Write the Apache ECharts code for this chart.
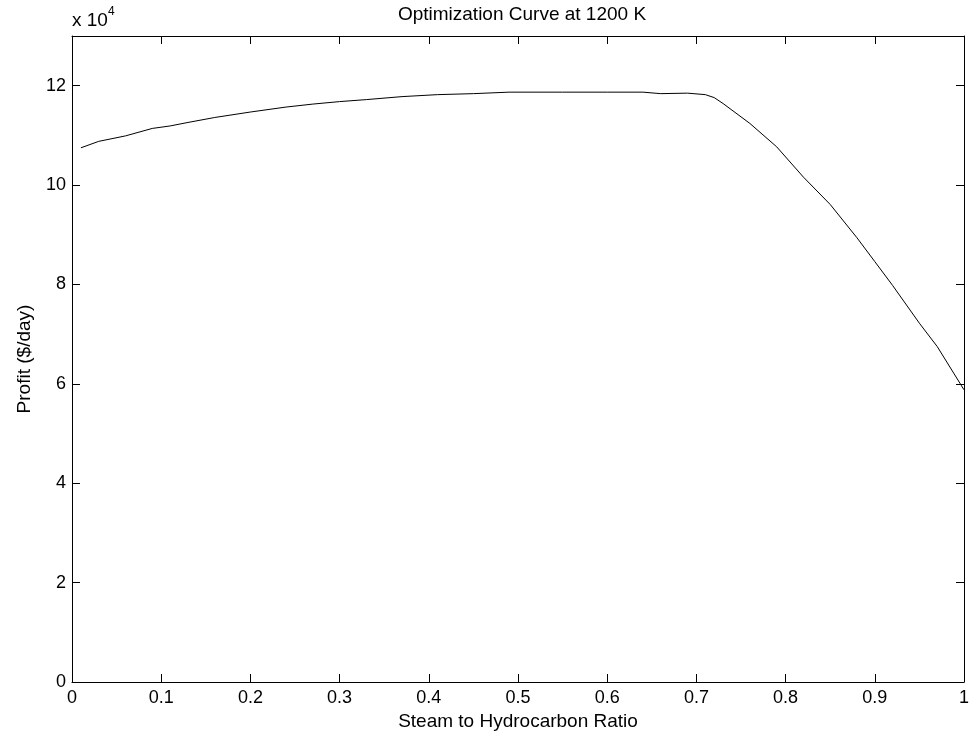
<!DOCTYPE html>
<html>
<head>
<meta charset="utf-8">
<script src="https://cdn.jsdelivr.net/npm/echarts@6/dist/echarts.min.js"></script>
<style>
  html, body { margin: 0; padding: 0; background: #fff; }
  #chart { width: 974px; height: 738px; }
</style>
</head>
<body>
<div id="chart"></div>
<script>
// values
const ratio = [0.01, 0.03, 0.06, 0.09, 0.11, 0.13, 0.16, 0.2, 0.24, 0.27, 0.3, 0.33, 0.37, 0.41, 0.45, 0.49,
    0.55, 0.6, 0.64, 0.66, 0.69, 0.71, 0.72, 0.73, 0.76, 0.79, 0.82, 0.85, 0.88, 0.9, 0.92, 0.95, 0.97, 1.0]
const profit = [107500, 108800, 109900, 111400, 111900, 112600, 113600, 114700, 115700, 116300, 116800, 117200,
    117800, 118200, 118400, 118700, 118700, 118700, 118700, 118400, 118500, 118200, 117600, 116400, 112400,
    107700, 101600, 96100, 89400, 84600, 79800, 72200, 67500, 58800]
const xTicks = [0, 0.1, 0.2, 0.3, 0.4, 0.5, 0.6, 0.7, 0.8, 0.9, 1]
const yTicks = [0, 20000, 40000, 60000, 80000, 100000, 120000]

const font = "'Liberation Sans', Arial, Helvetica, sans-serif"
const axisLine = { show: true, onZero: false, lineStyle: { color: '#000', width: 1 } }
const tick = { show: true, inside: true, length: 8, lineStyle: { color: '#000', width: 1 } }

const chart = echarts.init(document.getElementById('chart'))
chart.setOption({
    animation: false,
    backgroundColor: '#fff',
    title: {
        text: 'Optimization Curve at 1200 K',
        left: 517,
        top: 0,
        textAlign: 'center',
        textStyle: { fontFamily: font, fontSize: 19, fontWeight: 'normal', color: '#000' },
    },
    grid: { left: 72, right: 10, top: 36, bottom: 56 },
    graphic: [
        { type: 'text', left: 72, top: 11, style: { text: 'x 10', font: '19px ' + font, fill: '#000' } },
        { type: 'text', left: 108, top: 6, style: { text: '4', font: '12px ' + font, fill: '#000' } },
    ],
    xAxis: [
        {
            type: 'value',
            min: 0,
            max: 1,
            interval: 0.1,
            position: 'bottom',
            name: 'Steam to Hydrocarbon Ratio',
            nameLocation: 'middle',
            nameGap: 30,
            nameTextStyle: { fontFamily: font, fontSize: 19, color: '#000' },
            axisLine: axisLine,
            axisTick: tick,
            splitLine: { show: false },
            axisLabel: {
                fontFamily: font,
                fontSize: 18,
                color: '#000',
                margin: 7,
                formatter: (v) => (xTicks.includes(+v.toFixed(1)) ? String(+v.toFixed(1)) : ''),
            },
        },
        {
            type: 'value',
            min: 0,
            max: 1,
            interval: 0.1,
            position: 'top',
            axisLine: axisLine,
            axisTick: tick,
            axisLabel: { show: false },
            splitLine: { show: false },
        },
    ],
    yAxis: [
        {
            type: 'value',
            min: 0,
            max: 130000,
            interval: 20000,
            position: 'left',
            name: 'Profit ($/day)',
            nameLocation: 'middle',
            nameGap: 38,
            nameTextStyle: { fontFamily: font, fontSize: 19, color: '#000' },
            axisLine: axisLine,
            axisTick: tick,
            splitLine: { show: false },
            axisLabel: {
                fontFamily: font,
                fontSize: 18,
                color: '#000',
                margin: 6,
                showMaxLabel: false,
                formatter: (v) => (yTicks.includes(v) ? String(v / 10000) : ''),
            },
        },
        {
            type: 'value',
            min: 0,
            max: 130000,
            interval: 20000,
            position: 'right',
            axisLine: axisLine,
            axisTick: tick,
            axisLabel: { show: false },
            splitLine: { show: false },
        },
    ],
    series: [
        {
            name: 'Profit',
            type: 'line',
            xAxisIndex: 0,
            yAxisIndex: 0,
            data: ratio.map((r, i) => [r, profit[i]]),
            showSymbol: false,
            smooth: false,
            lineStyle: { color: '#000', width: 1 },
        },
    ],
})
</script>
</body>
</html>
